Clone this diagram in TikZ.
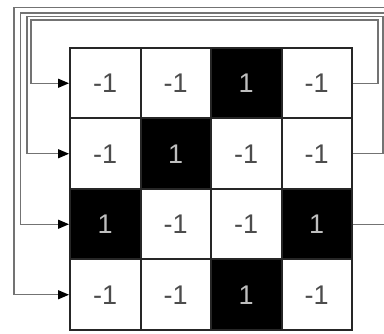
\documentclass[tikz,border=0pt]{standalone}
\usepackage{fontspec}
\setmainfont{Liberation Sans}
\usetikzlibrary{arrows.meta}
\begin{document}
\begin{tikzpicture}[x=1pt,y=-1pt,
  cell/.style={draw=black!85,line width=2pt,minimum size=70.5pt,inner sep=0pt,font=\fontsize{27}{27}\selectfont},
  wcell/.style={cell,fill=white,text=black!70},
  bcell/.style={cell,fill=black,text=black!25},
  loop/.style={draw=black!55,line width=1.4pt},
  fb/.style={loop,-{Triangle[length=11pt,width=9pt,fill=black,color=black]}}]
\clip (0,0) rectangle (384,334);
\fill[white] (0,0) rectangle (384,334);
% row 1
\node[wcell] (c11) at (105.25,83.25) {-1};
\node[wcell] (c12) at (175.75,83.25) {-1};
\node[bcell] (c13) at (246.25,83.25) {1};
\node[wcell] (c14) at (316.75,83.25) {-1};
% row 2
\node[wcell] (c21) at (105.25,153.75) {-1};
\node[bcell] (c22) at (175.75,153.75) {1};
\node[wcell] (c23) at (246.25,153.75) {-1};
\node[wcell] (c24) at (316.75,153.75) {-1};
% row 3
\node[bcell] (c31) at (105.25,224.25) {1};
\node[wcell] (c32) at (175.75,224.25) {-1};
\node[wcell] (c33) at (246.25,224.25) {-1};
\node[bcell] (c34) at (316.75,224.25) {1};
% row 4
\node[wcell] (c41) at (105.25,294.75) {-1};
\node[wcell] (c42) at (175.75,294.75) {-1};
\node[bcell] (c43) at (246.25,294.75) {1};
\node[wcell] (c44) at (316.75,294.75) {-1};
% feedback loops
\coordinate (r1a) at (378,83.25);
\coordinate (r1b) at (378,20);
\coordinate (r1c) at (31,20);
\coordinate (r1d) at (31,83.25);
\draw[fb] (c14.east) -- (r1a) -- (r1b) -- (r1c) -- (r1d) -- (c11.west);
\coordinate (r2a) at (383,153.75);
\coordinate (r2b) at (383,16.5);
\coordinate (r2c) at (27,16.5);
\coordinate (r2d) at (27,153.75);
\draw[fb] (c24.east) -- (r2a) -- (r2b) -- (r2c) -- (r2d) -- (c21.west);
\coordinate (r3a) at (392,224.25);
\coordinate (r3b) at (392,13);
\coordinate (r3c) at (20.5,13);
\coordinate (r3d) at (20.5,224.25);
\draw[fb] (c34.east) -- (r3a) -- (r3b) -- (r3c) -- (r3d) -- (c31.west);
\coordinate (r4b) at (395,7.5);
\coordinate (r4c) at (14,7.5);
\coordinate (r4d) at (14,294.75);
\draw[fb] (r4b) -- (r4c) -- (r4d) -- (c41.west);
\end{tikzpicture}
\end{document}
